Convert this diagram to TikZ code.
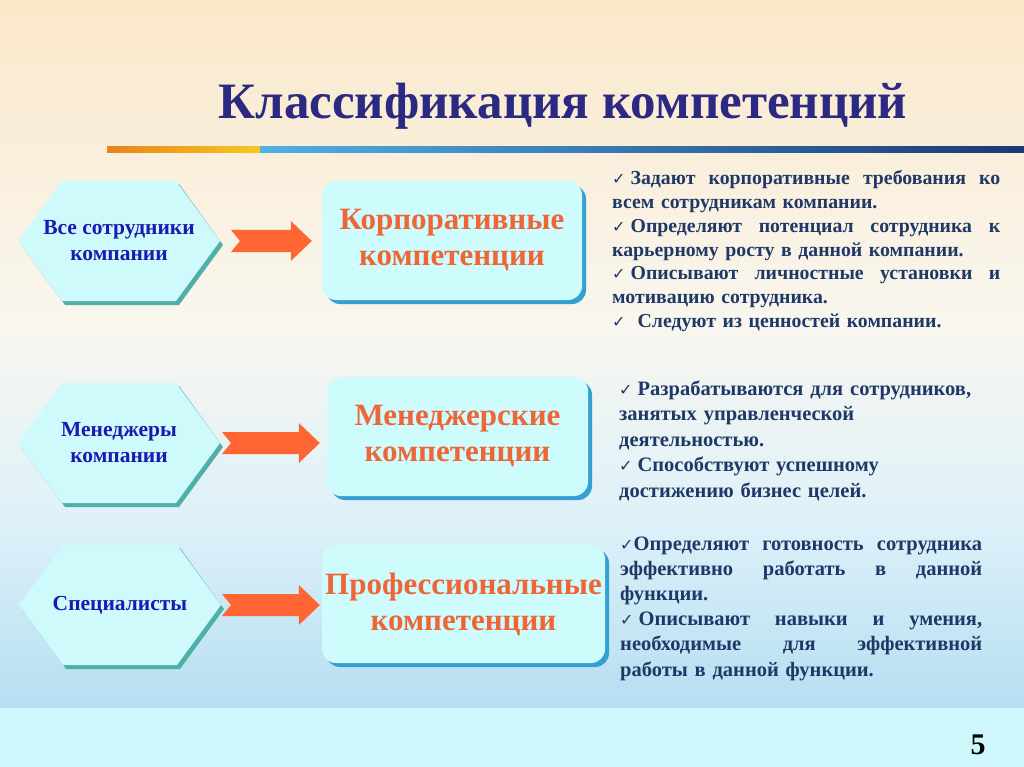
\documentclass[tikz,border=0pt]{standalone}
\usepackage{fontspec}
\setmainfont{Liberation Serif}
\newfontfamily\djv{DejaVu Sans}
\usetikzlibrary{calc,shadows}
\definecolor{titlec}{RGB}{43,41,130}
\definecolor{hextxt}{RGB}{26,26,178}
\definecolor{orangec}{RGB}{238,102,56}
\definecolor{arrowc}{RGB}{255,102,51}
\definecolor{bodyc}{RGB}{30,56,104}
\definecolor{hexfill}{RGB}{206,250,252}
\definecolor{hexsh}{RGB}{78,176,168}
\definecolor{boxfill}{RGB}{206,251,251}
\definecolor{boxsh}{RGB}{52,160,210}
\definecolor{bgA}{RGB}{251,232,202}
\definecolor{bgB}{RGB}{249,246,238}
\definecolor{bgC}{RGB}{222,241,249}
\definecolor{bgD}{RGB}{182,222,241}
\definecolor{bgS}{RGB}{206,248,252}
\definecolor{barOa}{RGB}{232,132,26}
\definecolor{barOb}{RGB}{247,200,34}
\definecolor{barBa}{RGB}{80,176,228}
\definecolor{barBb}{RGB}{26,56,118}
\newcommand\ck{{\djv\fontsize{16}{16}\selectfont ✓}}
\newcommand\cks{\ck\kern5pt\relax}
\newcommand\jl[2]{{\spaceskip=0pt\xspaceskip=0pt\makebox[#1][s]{#2}}}
\newcommand\hexa[4]{%
  \fill[hexsh] (#2-98,#3+4) -- (#2-54,#3-57) -- (#2+60,#3-57) -- (#2+104,#3+4) -- (#2+60,#3+64) -- (#2-54,#3+64) -- cycle;
  \fill[hexfill] (#2-101,#3) -- (#2-57,#3-60) -- (#2+57,#3-60) -- (#2+101,#3) -- (#2+57,#3+60) -- (#2-57,#3+60) -- cycle;
  \node[hextext] (#1) at (#2,#3) {#4};
  \coordinate (#1e) at (#2+101,#3);
}
\newcommand\barrow[2]{%
  \fill[arrowc] ($(#1)+(0,-11)$) -- ($(#2)+(-21,-11)$) -- ($(#2)+(-21,-20)$) -- (#2)
    -- ($(#2)+(-21,20)$) -- ($(#2)+(-21,11)$) -- ($(#1)+(0,11)$) -- ($(#1)+(9,0)$) -- cycle;}
\begin{document}
\begin{tikzpicture}[x=1pt,y=-1pt,
  hextext/.style={text=hextxt,font=\fontsize{21.5}{26}\selectfont\bfseries,align=center,inner sep=0pt},
  compbox/.style={rounded corners=14pt,fill=boxfill,text=orangec,
     font=\fontsize{31}{36}\selectfont\bfseries,align=center,inner sep=0pt,
     copy shadow={shadow xshift=4pt,shadow yshift=-4pt,fill=boxsh,draw=none}},
  bodytext/.style={text=bodyc,font=\bfseries,align=left,inner sep=0pt,anchor=base west}]
\useasboundingbox (0,0) rectangle (1024,767);
% background
\fill[top color=bgA,bottom color=bgB] (0,0) rectangle (1024,320);
\fill[top color=bgB,bottom color=bgC] (0,320) rectangle (1024,520);
\fill[top color=bgC,bottom color=bgD] (0,520) rectangle (1024,708);
\fill[bgS] (0,708) rectangle (1024,767);
% bar
\fill[left color=barOa,right color=barOb] (107,147) rectangle (260,153);
\fill[left color=barBa,right color=barBb] (260,147) rectangle (1024,153);
% title
\node[text=titlec,font=\fontsize{51}{60}\selectfont\bfseries,inner sep=0pt] (title) at (563,106) {Классификация компетенций};
% hexagons
\hexa{h1}{119}{241}{Все сотрудники\\компании}
\hexa{h2}{119}{443}{Менеджеры\\компании}
\hexa{h3}{120}{605}{Специалисты}
% boxes
\node[compbox,minimum width=260pt,minimum height=119pt] (b1) at (452,240.5) {Корпоративные\\компетенции};
\node[compbox,minimum width=261pt,minimum height=119pt] (b2) at (457.5,436.5) {Менеджерские\\компетенции};
\node[compbox,minimum width=283pt,minimum height=118pt] (b3) at (463.5,604) {Профессиональные\\компетенции};
% arrows
\coordinate (a1s) at ($(h1e)+(11,0)$);
\coordinate (a1e) at ($(h1e -| b1.west)+(-10,0)$);
\coordinate (a2s) at ($(h2e)+(2,0)$);
\coordinate (a2e) at ($(h2e -| b2.west)+(-7,0)$);
\coordinate (a3s) at ($(h3e)+(1,0)$);
\coordinate (a3e) at ($(h3e -| b3.west)+(-2,0)$);
\barrow{a1s}{a1e}
\barrow{a2s}{a2e}
\barrow{a3s}{a3e}
% text blocks
\node[bodytext,text width=388pt,font=\fontsize{19.8}{23.7}\selectfont\bfseries] (t1) at (612,185) {%
\jl{388pt}{\cks Задают корпоративные требования ко}\\
всем сотрудникам компании.\\
\jl{388pt}{\cks Определяют потенциал сотрудника к}\\
карьерному росту в данной компании.\\
\jl{388pt}{\cks Описывают личностные установки и}\\
мотивацию сотрудника.\\
\ck\kern12pt Следуют из ценностей компании.};
\node[bodytext,text width=390pt,font=\fontsize{20.5}{25.5}\selectfont\bfseries] (t2) at (619,395) {%
\cks Разрабатываются для сотрудников,\\
занятых управленческой\\
деятельностью.\\
\cks Способствуют успешному\\
достижению бизнес целей.};
\node[bodytext,text width=362pt,font=\fontsize{20.5}{25.2}\selectfont\bfseries] (t3) at (620,550) {%
\jl{362pt}{\ck{}Определяют готовность сотрудника}\\
\jl{362pt}{эффективно работать в данной}\\
функции.\\
\jl{362pt}{\cks Описывают навыки и умения,}\\
\jl{362pt}{необходимые для эффективной}\\
работы в данной функции.};
\node[font=\fontsize{30}{30}\selectfont\bfseries,inner sep=0pt] (pg) at (978,745) {5};
\end{tikzpicture}
\end{document}
